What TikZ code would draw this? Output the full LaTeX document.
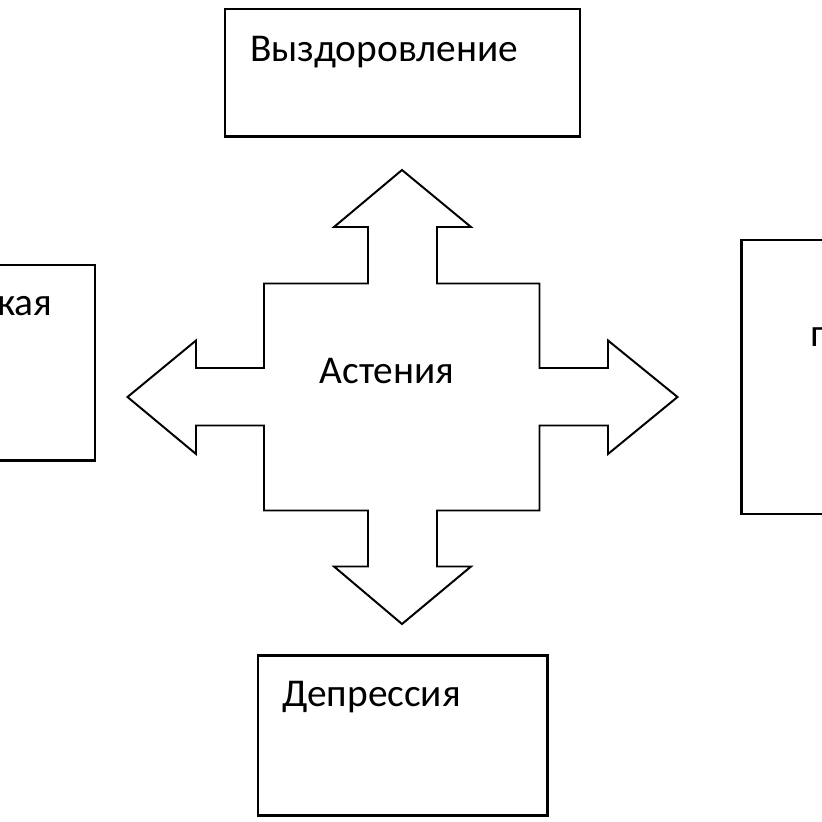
\documentclass[tikz,border=0pt]{standalone}
\usepackage{fontspec}
\setmainfont{Carlito}
\usetikzlibrary{positioning}

\tikzset{
  statebox/.style={draw=black, line width=1.8pt, inner sep=0pt},
  statetext/.style={font=\fontsize{28}{33}\selectfont, inner sep=0pt},
  crossline/.style={draw=black, line width=1.4pt, line join=miter}
}

\begin{document}
\begin{tikzpicture}[x=0.025cm, y=-0.025cm]
  \useasboundingbox (0,0) rectangle (822,822);
  \clip (0,0) rectangle (822,822);

  % Boxes
  \draw[statebox] (225,9) rectangle (580,136.5) coordinate (topbox);
  \draw[statebox] (258,655.5) rectangle (547.5,815.5) coordinate (botbox);
  \draw[statebox] (-200,265) rectangle (95,460.5) coordinate (leftbox);
  \draw[statebox] (741.5,240) rectangle (1000,514) coordinate (rightbox);

  % Texts
  \node[statetext, anchor=base west] (recovery) at (250,61.7) {Выздоровление};
  \node[statetext, anchor=base west] (depression) at (282,706) {Депрессия};
  \node[statetext, anchor=base east] (leftlabel) at (52.5,315) {кая};
  \node[statetext, anchor=base west] (rightlabel) at (810,346) {п};

  % Cross arrow
  \draw[crossline]
    (402,170) -- (471,227) -- (437,227) -- (437,283.5) -- (539.5,283.5)
    -- (539.5,368) -- (608,368) -- (608,340.5) -- (677.5,397) -- (608,454)
    -- (608,425.5) -- (539.5,425.5) -- (539.5,510.5) -- (437,510.5)
    -- (437,566.5) -- (471,566.5) -- (402,624) -- (334,566.5) -- (368,566.5)
    -- (368,510.5) -- (264,510.5) -- (264,425.5) -- (196,425.5) -- (196,454)
    -- (127.5,397) -- (196,340.5) -- (196,368) -- (264,368) -- (264,283.5)
    -- (368,283.5) -- (368,227) -- (334,227) -- cycle;
  \node[statetext, anchor=base west] (asthenia) at (319.5,383.3) {Астения};
\end{tikzpicture}
\end{document}
